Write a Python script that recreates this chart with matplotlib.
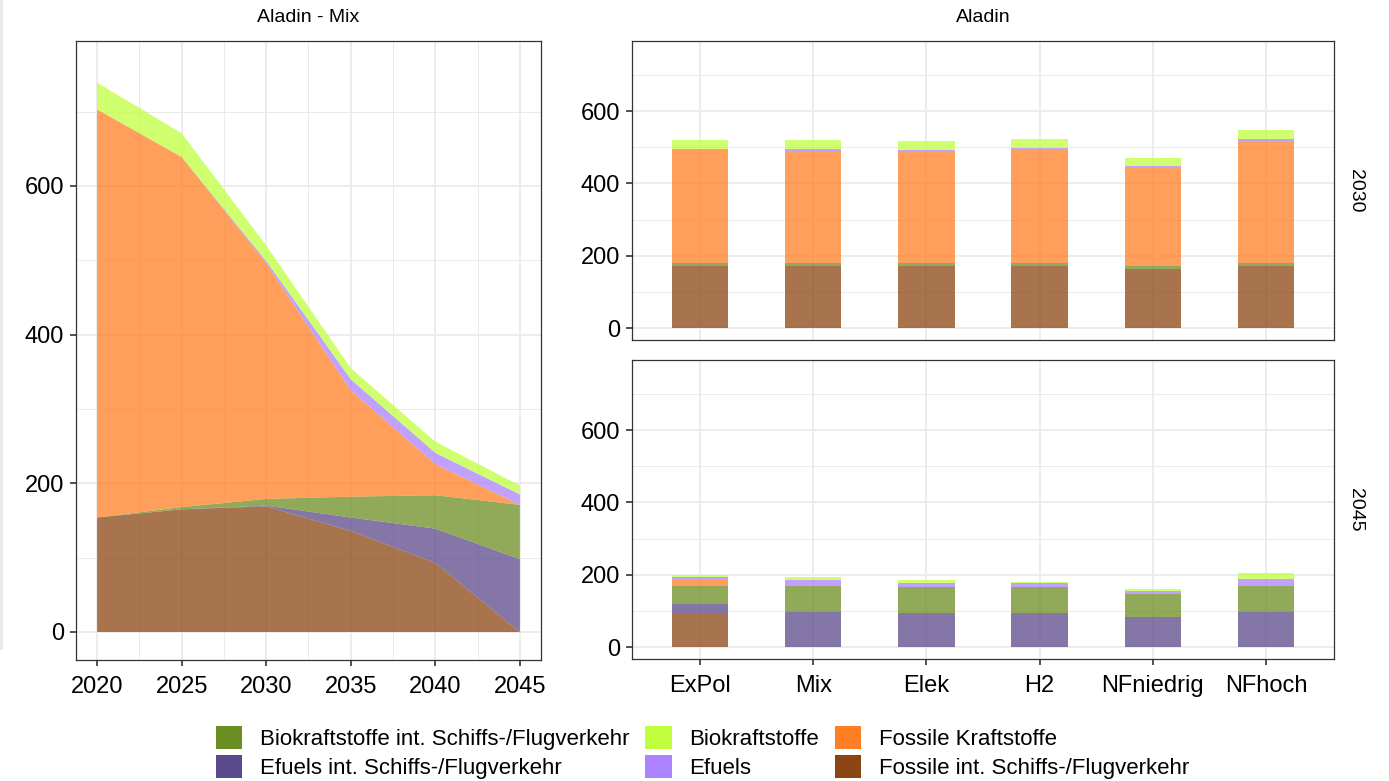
import numpy as np
import matplotlib
matplotlib.use("Agg")
import matplotlib.pyplot as plt
from matplotlib.patches import Patch, Rectangle

plt.rcParams['font.family'] = ['Liberation Sans', 'DejaVu Sans']

# --- data -------------------------------------------------------------
years = [2020, 2025, 2030, 2035, 2040, 2045]
mix_fossil_int = [154, 165, 169, 136, 93, 0]
mix_efuels_int = [0, 0, 1, 18, 46, 98]
mix_bio_int = [0, 3, 9, 28, 45, 73]
mix_fossil = [549, 471, 317, 143, 42, 0]
mix_efuels = [0, 0, 3, 15, 15, 14]
mix_bio = [36, 32, 21, 15, 15, 12]

scenarios = ['ExPol', 'Mix', 'Elek', 'H2', 'NFniedrig', 'NFhoch']
fossil_int_2030 = [172, 172, 172, 172, 162, 172]
efuels_int_2030 = [1, 1, 1, 1, 2, 1]
bio_int_2030 = [6, 6, 6, 6, 7, 6]
fossil_2030 = [315, 311, 311, 315, 275, 337]
efuels_2030 = [1, 4, 3, 3, 3, 6]
bio_2030 = [26, 25, 24, 26, 22, 25]

fossil_int_2045 = [93, 0, 0, 0, 0, 0]
efuels_int_2045 = [26, 97, 93, 93, 84, 98]
bio_int_2045 = [51, 73, 72, 72, 64, 72]
fossil_2045 = [15, 0, 0, 0, 0, 0]
efuels_2045 = [8, 15, 12, 11, 7, 19]
bio_2045 = [5, 10, 9, 5, 6, 15]

labels = ['Fossile int. Schiffs-/Flugverkehr', 'Efuels int. Schiffs-/Flugverkehr',
          'Biokraftstoffe int. Schiffs-/Flugverkehr', 'Fossile Kraftstoffe',
          'Efuels', 'Biokraftstoffe']
colors = ['#8B4513', '#5B4A8B', '#6B8E23', '#FF7F24', '#AB82FF', '#C0FF3E']
alpha = 0.75

W, H = 1389, 781
fig = plt.figure(figsize=(W / 100, H / 100), dpi=100)


def add_ax(x0, y0, x1, y1):
    # pixel box -> figure fraction
    return fig.add_axes([x0 / W, 1 - y1 / H, (x1 - x0) / W, (y1 - y0) / H])


def style(ax):
    ax.set_facecolor('white')
    ax.grid(True, which='major', color='#EBEBEB', linewidth=1.3, zorder=0)
    ax.grid(True, which='minor', color='#EBEBEB', linewidth=0.7, zorder=0)
    ax.set_axisbelow(True)
    for s in ax.spines.values():
        s.set_color('#333333')
        s.set_linewidth(0.9)
    ax.tick_params(axis='both', which='major', length=4.5, width=1.2, color='#333333',
                   labelsize=17, labelcolor='black')
    ax.tick_params(axis='x', which='major', pad=7)
    ax.tick_params(axis='y', which='major', pad=4)
    ax.tick_params(axis='both', which='minor', length=0)


# --- left: area chart --------------------------------------------------
axl = add_ax(76, 41, 541, 660)
style(axl)
axl.stackplot(years, mix_fossil_int, mix_efuels_int, mix_bio_int, mix_fossil,
              mix_efuels, mix_bio, colors=colors, alpha=alpha, linewidth=0, zorder=2)
axl.set_xlim(2018.75, 2046.25)
axl.set_ylim(-37.7, 795)
axl.set_xticks(years)
axl.set_xticks([2022.5, 2027.5, 2032.5, 2037.5, 2042.5], minor=True)
axl.set_yticks([0, 200, 400, 600])
axl.set_yticks([100, 300, 500, 700], minor=True)
fig.text((76 + 541) / 2 / W, 1 - 17 / H, 'Aladin - Mix', ha='center', va='center', fontsize=14)

# --- right: bars per scenario -----------------------------------------
pos = np.arange(1, len(scenarios) + 1)
panels = [
    (41, 340, '2030', [fossil_int_2030, efuels_int_2030, bio_int_2030, fossil_2030, efuels_2030, bio_2030]),
    (360, 659, '2045', [fossil_int_2045, efuels_int_2045, bio_int_2045, fossil_2045, efuels_2045, bio_2045]),
]
for i, (y0, y1, year, series) in enumerate(panels):
    ax = add_ax(632, y0, 1334, y1)
    style(ax)
    bottom = np.zeros(len(scenarios))
    for vals, c in zip(series, colors):
        ax.bar(pos, vals, width=0.5, bottom=bottom, color=c, alpha=alpha, linewidth=0, zorder=2)
        bottom += np.array(vals)
    ax.set_xlim(0.4, 6.6)
    ax.set_ylim(-33, 794)
    ax.set_yticks([0, 200, 400, 600])
    ax.set_yticks([100, 300, 500, 700], minor=True)
    ax.set_xticks(pos)
    if i == 1:
        ax.set_xticklabels(scenarios)
    else:
        ax.tick_params(axis='x', which='major', labelbottom=False, length=0)
    fig.text(1355 / W, 1 - (y0 + y1) / 2 / H, year, rotation=270, ha='center', va='center', fontsize=14)

fig.text((632 + 1334) / 2 / W, 1 - 17 / H, 'Aladin', ha='center', va='center', fontsize=14)

# faint strip at the left border of the screenshot
fig.patches.append(Rectangle((0, 1 - 650 / H), 3 / W, 650 / H, transform=fig.transFigure,
                             facecolor='#E6ECF0', edgecolor='none'))

# --- legend -----------------------------------------------------------
order = [2, 1, 5, 4, 3, 0]
handles = [Patch(facecolor=colors[k], edgecolor='none') for k in order]
fig.legend(handles, [labels[k] for k in order], ncol=3, loc='center',
           bbox_to_anchor=(702.5 / W, 1 - 752.5 / H), frameon=False, fontsize=16,
           handlelength=1.2, handleheight=1.2, handletextpad=0.8,
           labelspacing=0.2, columnspacing=0.7, borderpad=0)

fig.savefig('out.png', dpi=100)
